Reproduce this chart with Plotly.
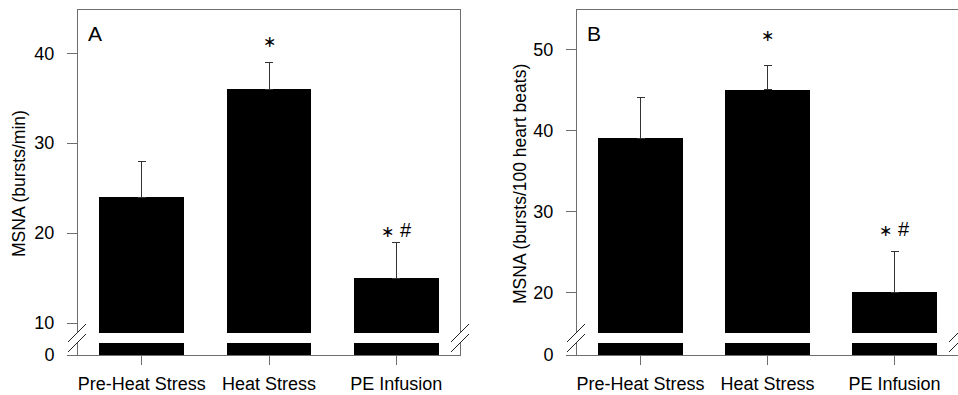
import plotly.graph_objects as go

categories = ["Pre-Heat Stress", "Heat Stress", "PE Infusion"]
msna_rate = [24, 36, 15]          # bursts/min
msna_rate_sem = [4, 3, 4]
msna_incidence = [39, 45, 20]     # bursts/100 heart beats
msna_incidence_sem = [5, 3, 5]
sig_rate = ["", "*", "* #"]
sig_incidence = ["", "*", "* #"]
ticks_rate = [10, 20, 30, 40]
ticks_incidence = [20, 30, 40, 50]

W, H = 958, 395
FONT = "Liberation Sans, Arial, DejaVu Sans, sans-serif"
AX = "#6e6e6e"
xs = list(range(len(categories)))
STAR = '<span style="font-size:16px;font-family:DejaVu Sans">\u2217</span>'

def px_x(p):
    return p / W

def px_y(p):
    return 1 - p / H

fig = go.Figure()

panels = [
    (msna_rate, msna_rate_sem, sig_rate, ticks_rate, [8.9, 44.8], (78, 460), "A",
     "MSNA (bursts/min)", 19),
    (msna_incidence, msna_incidence_sem, sig_incidence, ticks_incidence, [15.0, 54.85], (577, 958), "B",
     "MSNA (bursts/100 heart beats)", 520),
]

up_dom = [px_y(333), px_y(10)]
lo_dom = [px_y(355), px_y(343)]
shifts = {("A", 1): 9, ("A", 2): -1, ("B", 1): 19, ("B", 2): 10}

annotations = []
shapes = []
layout = {}
for i, (vals, sem, sig, ticks, rng, (x0, x1), letter, ytitle, tx) in enumerate(panels):
    up = 2 * i + 1
    lo = 2 * i + 2
    xu = "x" if up == 1 else f"x{up}"
    yu = "y" if up == 1 else f"y{up}"
    xl, yl = f"x{lo}", f"y{lo}"
    xdom = [px_x(x0), min(1.0, px_x(x1))]
    fig.add_trace(go.Bar(x=xs, y=vals, width=0.667, marker=dict(color="black", line=dict(width=0)),
                         error_y=dict(type="data", symmetric=False, array=sem, arrayminus=[0] * len(sem),
                                      color="#333333", thickness=1, width=4),
                         xaxis=xu, yaxis=yu, showlegend=False))
    fig.add_trace(go.Bar(x=xs, y=vals, width=0.667, marker=dict(color="black", line=dict(width=0)),
                         xaxis=xl, yaxis=yl, showlegend=False))
    k = "" if up == 1 else str(up)
    common = dict(automargin=False, showgrid=False, zeroline=False)
    layout[f"xaxis{k}"] = dict(domain=xdom, anchor=yu, range=[-0.5, 2.5], side="top",
                               showline=True, linecolor=AX, linewidth=1, ticks="",
                               showticklabels=False, **common)
    layout[f"yaxis{k}"] = dict(domain=up_dom, anchor=xu, range=rng, tickvals=ticks,
                               showline=True, mirror=True, linecolor=AX, linewidth=1,
                               ticks="outside", ticklen=10, tickcolor=AX, ticklabelstandoff=9,
                               tickfont=dict(size=18, color="black", family=FONT), **common)
    layout[f"xaxis{lo}"] = dict(domain=xdom, anchor=yl, range=[-0.5, 2.5], tickvals=xs,
                                ticktext=categories, showline=True, linecolor=AX, linewidth=1,
                                ticks="outside", ticklen=9, tickcolor=AX, ticklabelstandoff=3,
                                tickfont=dict(size=18, color="black", family=FONT), **common)
    layout[f"yaxis{lo}"] = dict(domain=lo_dom, anchor=xl, range=[0, 1], tickvals=[0],
                                showline=True, mirror=True, linecolor=AX, linewidth=1,
                                ticks="outside", ticklen=10, tickcolor=AX, ticklabelstandoff=9,
                                tickfont=dict(size=18, color="black", family=FONT), **common)
    for j, s in enumerate(sig):
        if s:
            text = s.replace(" ", "\u00a0").replace("*", STAR)
            annotations.append(dict(x=j, y=vals[j] + sem[j], xref=xu, yref=yu, text=text,
                                    showarrow=False, yanchor="bottom", yshift=shifts[(letter, j)],
                                    font=dict(size=20, color="black", family=FONT)))
    annotations.append(dict(x=px_x(x0 + 17), y=px_y(33), xref="paper", yref="paper", text=letter,
                            showarrow=False, xanchor="center", yanchor="middle",
                            font=dict(size=21, color="black", family=FONT)))
    annotations.append(dict(x=px_x(tx), y=px_y(184), xref="paper", yref="paper", text=ytitle,
                            textangle=-90, showarrow=False, xanchor="center", yanchor="middle",
                            font=dict(size=17.5, color="black", family=FONT)))
    for bx in (x0 - 10, x1 - 9):
        for dy in (0, 10):
            shapes.append(dict(type="line", xref="paper", yref="paper",
                               x0=px_x(bx), y0=px_y(342 + dy), x1=px_x(bx + 18), y1=px_y(324 + dy),
                               line=dict(color="#222222", width=1)))

fig.update_layout(width=W, height=H, margin=dict(l=0, r=0, t=0, b=0, autoexpand=False),
                  paper_bgcolor="white", plot_bgcolor="white", bargap=0,
                  font=dict(family=FONT, color="black"),
                  annotations=annotations, shapes=shapes, **layout)

fig.write_html("out.html")
